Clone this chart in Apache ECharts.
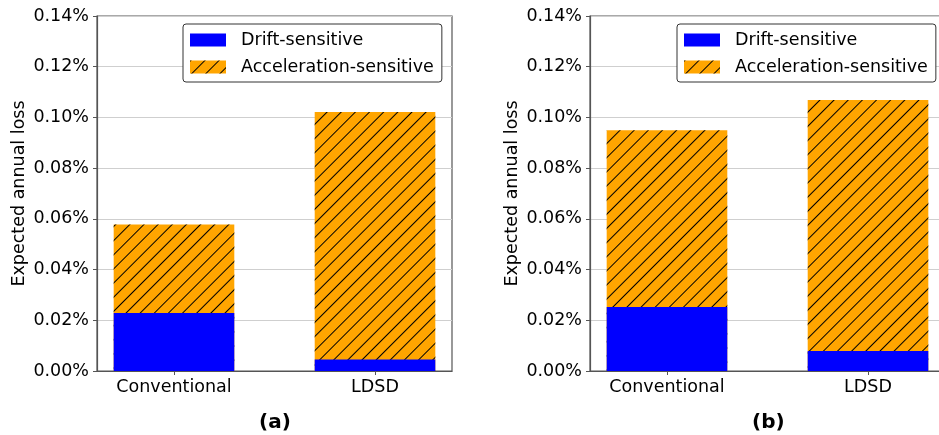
<!DOCTYPE html>
<html>
<head>
<meta charset="utf-8">
<script src="https://cdn.jsdelivr.net/npm/echarts@6/dist/echarts.min.js"></script>
<style>
html,body{margin:0;padding:0;background:#fff;}
#c{width:939px;height:435px;}
</style>
</head>
<body>
<div id="c"></div>
<script>
// ---- data (values in percent) ----
const categories = ['Conventional', 'LDSD'];
const driftA = [0.0229, 0.0045];
const accelA = [0.0349, 0.0976];
const driftB = [0.0252, 0.0079];
const accelB = [0.0697, 0.0990];
const yTicks = [0, 0.02, 0.04, 0.06, 0.08, 0.10, 0.12, 0.14];
const panelLabels = ['(a)', '(b)'];
const seriesNames = ['Drift-sensitive', 'Acceleration-sensitive'];

const FONT = 'DejaVu Sans';
const chart = echarts.init(document.getElementById('c'), null, {renderer: 'canvas'});

const hatch = {
  symbol: 'rect', symbolSize: 1,
  dashArrayX: [1, 0], dashArrayY: [0.8, 8.6],
  rotation: -Math.PI / 4, color: '#000'
};

const grids = [
  {left: 97, top: 16, width: 355, height: 355},
  {left: 590, top: 16, width: 355, height: 355}
];

function xAxisFor(i) {
  return {
    type: 'value', gridIndex: i, min: -0.383, max: 1.383,
    axisLine: {show: true, onZero: false, lineStyle: {color: '#555', width: 1.2}},
    axisTick: {show: true, customValues: [0, 1], length: 4, lineStyle: {color: '#555'}},
    axisLabel: {
      customValues: [0, 1], margin: 7,
      formatter: v => categories[Math.round(v)] || '',
      color: '#000', fontFamily: FONT, fontSize: 17.5
    },
    splitLine: {show: false}
  };
}
function yAxisFor(i) {
  return {
    type: 'value', gridIndex: i, min: yTicks[0], max: yTicks[yTicks.length - 1], interval: 0.02,
    name: 'Expected annual loss', nameLocation: 'middle', nameGap: 69,
    nameTextStyle: {color: '#000', fontFamily: FONT, fontSize: 17.5},
    axisLine: {show: true, onZero: false, lineStyle: {color: '#555', width: 1.2}},
    axisTick: {show: true, length: 4, lineStyle: {color: '#555'}},
    axisLabel: {
      margin: 8, color: '#000', fontFamily: FONT, fontSize: 17.5,
      formatter: v => v.toFixed(2) + '%'
    },
    splitLine: {show: true, lineStyle: {color: '#cfcfcf', width: 1}}
  };
}

// Acceleration-sensitive sits on top of Drift-sensitive: draw the total in orange,
// then overlay the drift part in blue on the same slot.
function totalSeries(name, drift, accel, gi) {
  return {
    name: name, type: 'bar', xAxisIndex: gi, yAxisIndex: gi, barWidth: '60%', barGap: '-100%',
    data: accel.map((v, k) => [k, v + drift[k]]),
    itemStyle: {color: '#ffa500', decal: hatch}
  };
}
function driftSeries(name, drift, gi) {
  return {
    name: name, type: 'bar', xAxisIndex: gi, yAxisIndex: gi, barWidth: '60%', barGap: '-100%',
    data: drift.map((v, k) => [k, v]),
    itemStyle: {color: '#0000ff'}
  };
}

function legendFor(left) {
  return {
    data: seriesNames, orient: 'vertical', left: left, top: 24,
    padding: [7, 8, 6, 7], itemWidth: 36, itemHeight: 13, itemGap: 9,
    borderColor: '#333', borderWidth: 1, borderRadius: 3, backgroundColor: '#fff',
    icon: 'rect',
    textStyle: {color: '#000', fontFamily: FONT, fontSize: 17.5, padding: [0, 0, 0, 10]},
    selectedMode: false
  };
}

chart.setOption({
  animation: false,
  backgroundColor: '#fff',
  grid: grids.map(g => Object.assign({show: true, borderColor: '#555', borderWidth: 1.2, backgroundColor: 'transparent', outerBoundsMode: 'none', containLabel: false}, g)),
  xAxis: [xAxisFor(0), xAxisFor(1)],
  yAxis: [yAxisFor(0), yAxisFor(1)],
  legend: [legendFor(183), legendFor(677)],
  title: [
    {text: panelLabels[0], left: 254, top: 408, textStyle: {fontFamily: FONT, fontSize: 20, fontWeight: 'bold', color: '#000'}},
    {text: panelLabels[1], left: 747, top: 408, textStyle: {fontFamily: FONT, fontSize: 20, fontWeight: 'bold', color: '#000'}}
  ],
  series: [
    totalSeries(seriesNames[1], driftA, accelA, 0),
    driftSeries(seriesNames[0], driftA, 0),
    totalSeries(seriesNames[1], driftB, accelB, 1),
    driftSeries(seriesNames[0], driftB, 1)
  ]
});
</script>
</body>
</html>
